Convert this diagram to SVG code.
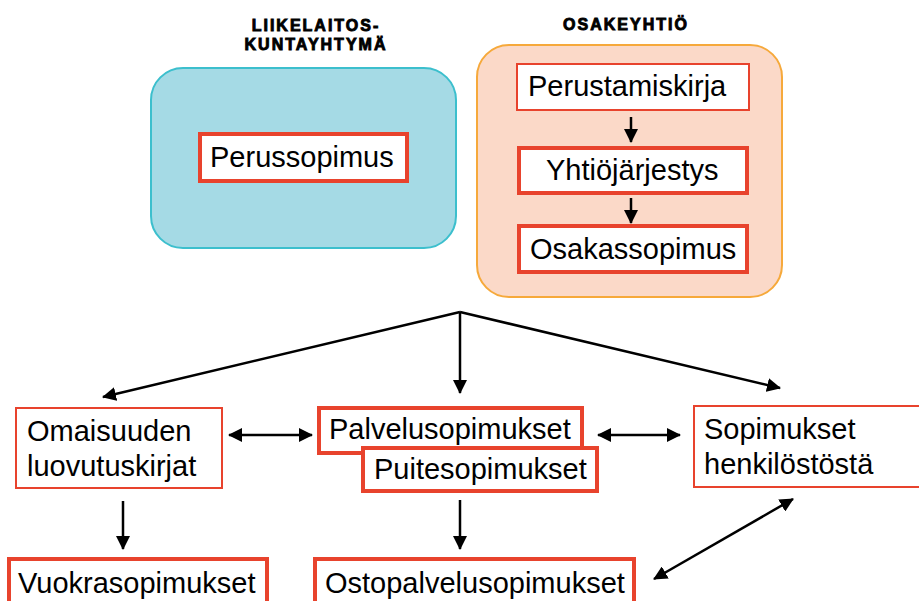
<svg xmlns="http://www.w3.org/2000/svg" width="919" height="601" viewBox="0 0 919 601">
<defs>
<marker id="ah" viewBox="0 0 14 14" refX="13" refY="7" markerWidth="14" markerHeight="14" markerUnits="userSpaceOnUse" orient="auto-start-reverse">
<path d="M0,0 L14,7 L0,14 Z" fill="#000"/>
</marker>
</defs>
<style>
.t{font-family:"Liberation Sans",Arial,sans-serif;font-size:29px;fill:#000}
.h{font-family:"Liberation Sans",Arial,sans-serif;font-size:16px;font-weight:bold;fill:#000;stroke:#000;stroke-width:0.9;letter-spacing:2px;text-anchor:middle}
.thin{fill:#fff;stroke:#e8432d;stroke-width:2}
.thick{fill:#fff;stroke:#e8432d;stroke-width:4}
.c{stroke:#000;stroke-width:2.5;fill:none}
.a{stroke:#000;stroke-width:2.5;fill:none;marker-end:url(#ah)}
.d{stroke:#000;stroke-width:2.5;fill:none;marker-start:url(#ah);marker-end:url(#ah)}
</style>
<rect width="919" height="601" fill="#fff"/>

<g id="liikelaitos">
<text class="h" x="316" y="31">LIIKELAITOS-</text>
<text class="h" x="316" y="50">KUNTAYHTYMÄ</text>
<rect x="151" y="68" width="305" height="180" rx="32" fill="#a5dae5" stroke="#3cbfcd" stroke-width="2"/>
</g>
<g id="perussopimus">
<rect class="thick" x="200" y="134" width="207" height="47"/>
<text class="t" x="210" y="167">Perussopimus</text>
</g>

<g id="osakeyhtio">
<text class="h" x="626" y="30">OSAKEYHTIÖ</text>
<rect x="477" y="45" width="305" height="252" rx="32" fill="#fbd9c8" stroke="#f6a93b" stroke-width="2"/>
</g>
<g id="perustamiskirja">
<rect class="thin" x="517" y="64" width="232" height="46"/>
<text class="t" x="528" y="96">Perustamiskirja</text>
</g>
<g id="yhtiojarjestys">
<rect class="thick" x="519" y="148" width="228" height="45"/>
<text class="t" x="546" y="180">Yhtiöjärjestys</text>
</g>
<g id="osakassopimus">
<rect class="thick" x="519" y="226" width="228" height="46"/>
<text class="t" x="530" y="259">Osakassopimus</text>
</g>

<g id="omaisuuden">
<rect class="thin" x="16" y="408" width="206" height="80"/>
<text class="t" x="27" y="441">Omaisuuden</text>
<text class="t" x="27" y="476">luovutuskirjat</text>
</g>
<g id="palvelusopimukset">
<rect class="thick" x="319" y="408" width="263" height="45"/>
<text class="t" x="329" y="439">Palvelusopimukset</text>
</g>
<g id="puitesopimukset">
<rect class="thick" x="363" y="448" width="234" height="43"/>
<text class="t" x="374" y="479">Puitesopimukset</text>
</g>
<g id="sopimukset-henkilostosta">
<rect class="thin" x="694" y="406" width="230" height="81"/>
<text class="t" x="704" y="439">Sopimukset</text>
<text class="t" x="704" y="474">henkilöstöstä</text>
</g>
<g id="vuokrasopimukset">
<rect class="thick" x="9" y="559" width="258" height="50" stroke-width="3"/>
<text class="t" x="18" y="593">Vuokrasopimukset</text>
</g>
<g id="ostopalvelusopimukset">
<rect class="thick" x="315" y="559" width="319" height="50" stroke-width="3"/>
<text class="t" x="325" y="593">Ostopalvelusopimukset</text>
</g>

<g id="connectors">
<line class="a" x1="631" y1="117" x2="631" y2="142"/>
<line class="a" x1="631" y1="198" x2="631" y2="223"/>
<line class="a" x1="460" y1="312" x2="103" y2="397"/>
<line class="a" x1="460" y1="312" x2="460" y2="393"/>
<line class="a" x1="460" y1="312" x2="780" y2="388"/>
<line class="d" x1="229" y1="435" x2="312" y2="435"/>
<line class="d" x1="598" y1="435" x2="680" y2="435"/>
<line class="a" x1="123" y1="501" x2="123" y2="549"/>
<line class="a" x1="460" y1="500" x2="460" y2="549"/>
<line class="d" x1="654" y1="579" x2="793" y2="499"/>
</g>
</svg>
